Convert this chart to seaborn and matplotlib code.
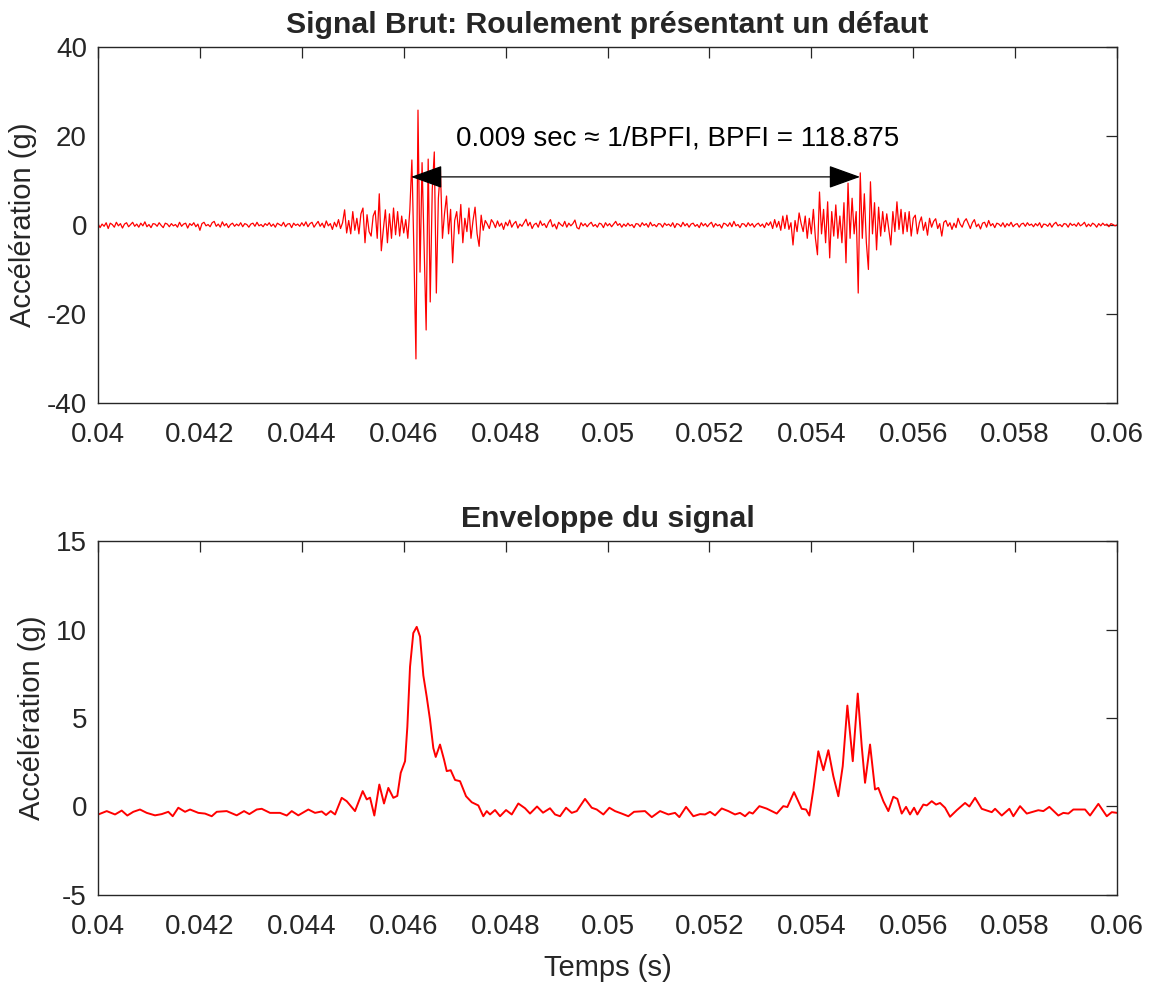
import numpy as np
import matplotlib
matplotlib.use('Agg')
import matplotlib.pyplot as plt
import seaborn as sns

sns.set_style('white')
plt.rcParams['font.family'] = ['Liberation Sans', 'DejaVu Sans']
plt.rcParams['axes.unicode_minus'] = False

# ---------------- data ----------------
t_start, t_end = 0.040, 0.060

raw_acc = [
    0.3, -0.6, 0.2, -0.3, 0.5, -0.8, 0.4, 0.1, -0.5, 0.6, -0.2, 0.3, -0.7, 0.2, 0.5, -0.4, 0.1, 0.6, -0.3, 0.2,
    -0.5, 0.4, -0.2, 0.7, -0.4, 0.1, -0.6, 0.3, 0.2, -0.3, 0.5, -0.1, -0.6, 0.4, 0.2, -0.4, 0.3, -0.2, 0.1, -0.5,
    0.6, -0.3, 0.2, 0.4, -0.7, 0.3, -0.1, 0.5, -0.4, 0.2, -1.2, 0.3, 0.6, -0.2, 0.1, -0.4, 0.5, 0.8, -0.3, 0.2,
    -0.5, 0.7, -0.2, 0.3, -0.6, 0.1, 0.4, -0.3, 0.2, -0.2, 0.5, -0.4, 0.3, 0.1, -0.5, 0.2, 0.4, -0.3, 0.6, -0.2,
    0.1, -0.4, 0.3, -0.1, 0.5, -0.3, 0.2, -0.5, 0.4, 0.1, -0.2, 0.6, -0.4, 0.2, 0.3, -0.6, 0.4, -0.1, 0.2, -0.3,
    0.5, -0.2, 0.7, -0.4, 0.3, 0.6, -0.5, 0.2, 0.8, -0.3, 0.4, -0.6, 0.9, -0.2, 0.3, -1.0, 0.6, -0.4, 1.2, -0.8,
    0.5, 3.4, -1.8, 1.0, -2.0, 3.0, -1.2, 1.5, -2.0, 2.5, 3.8, -4.0, 2.3, -1.5, -2.5, 2.0, 3.2, -3.0, 7.0, -5.8,
    -1.0, 3.4, -4.0, 2.5, -3.0, 3.8, -2.2, 3.0, -2.5, 2.0, -1.8, 1.2, -3.0, 3.4, 14.6, -6.0, -30.1, 25.8, -10.6, 14.0,
    -5.0, -23.6, 14.8, -17.3, 8.0, 16.4, -15.3, 6.0, 12.4, -3.0, 2.5, 6.5, -2.0, 3.5, -8.5, 1.0, 3.0, -2.0, 4.6, -4.0,
    1.5, -1.5, 3.8, -3.0, 1.0, 4.0, -2.0, -4.8, 2.2, -1.2, 1.0, 0.2, -0.8, 1.2, 0.5, -0.6, 0.9, -0.3, 0.4, -1.0,
    0.6, -0.2, 1.1, -0.5, 0.3, 0.8, -0.7, 0.2, -0.3, 0.5, 1.3, -0.2, 0.6, -0.8, 0.1, 0.4, -0.5, 0.9, -0.1, 0.3,
    -0.6, 0.5, 1.2, -0.4, 0.2, -0.9, 0.6, 0.1, -0.3, 0.8, -0.5, 0.4, -0.2, 0.3, 1.1, -0.6, -0.9, 0.5, -0.2, 0.3,
    -0.4, 0.2, 0.6, -0.3, 0.1, -0.5, 0.4, 0.2, -0.6, 0.5, -0.2, 0.3, -0.4, 0.2, 0.8, -0.1, 0.3, -0.5, 0.2, -0.3,
    0.4, -0.2, 0.1, -0.6, 0.3, 0.2, -0.4, 0.5, -0.1, 0.3, -0.5, 0.6, -0.2, 0.1, -0.4, 0.3, 0.2, -0.5, 0.4, -0.1,
    0.2, -0.3, 0.5, -0.6, 0.3, 0.1, -0.4, 0.6, -0.2, 0.3, -0.5, 0.2, 0.4, -0.3, 0.1, -0.6, 0.5, -0.2, 0.3, -0.4,
    0.2, 0.6, -0.5, 0.3, -0.2, 0.1, -0.7, 0.4, 0.2, -0.3, 0.5, -0.4, 0.8, -0.2, 0.1, -0.6, 0.3, 0.2, -0.4, 0.5,
    -0.2, 0.3, -0.5, 0.1, 0.4, -0.3, 0.2, -0.6, 0.5, -0.1, 0.7, -0.8, 1.2, -0.5, 0.8, -1.2, 2.0, -0.8, 2.2, -1.0,
    0.5, -4.5, 1.0, -1.5, 2.7, 0.3, -1.5, 2.0, -3.0, 1.5, -2.0, 3.5, -3.0, -6.7, 7.4, -2.0, 3.5, -4.0, 5.2, -7.4,
    3.0, -2.5, 4.5, -3.0, 2.0, -4.0, 5.0, -8.5, 9.4, -3.0, 6.0, -2.0, 3.0, -15.3, 11.7, -3.0, 7.0, -4.0, -10.0, 9.7,
    -2.0, 5.0, -5.6, 4.0, -2.5, 3.0, -1.5, 2.5, -1.0, -4.5, 3.0, -1.5, 5.2, -1.0, 3.5, -2.0, 2.8, -1.5, 3.0, -2.5,
    1.5, 2.2, -2.0, 0.5, 1.8, -1.2, 0.6, -2.3, 1.5, -0.5, 0.8, 1.4, -0.8, 0.3, -2.5, 0.6, 1.0, -0.3, 0.5, -1.0,
    0.4, -0.6, 1.5, 0.2, -0.5, 0.8, 1.4, 0.3, -0.8, 0.5, 1.2, -0.4, 0.2, -0.9, 0.4, 0.6, -0.5, 1.0, -0.2, 0.3,
    -0.6, 0.4, 0.2, -0.3, 0.5, -0.5, 0.3, -0.2, 0.6, -0.4, 0.1, 0.3, -0.5, 0.2, 0.4, -0.3, 0.5, -0.1, 0.2, -0.4,
    0.3, -0.2, 0.5, -0.6, 0.2, 0.1, -0.3, 0.4, -0.5, 0.2, 0.6, -0.2, 0.1, -0.4, 0.3, 0.2, -0.5, 0.4, -0.1, 0.2,
    -0.3, 0.5, -0.2, 0.1, 0.6, -0.4, 0.2, -0.3, 0.4, 0.1, -0.5, 0.3, -0.2, 0.4, -0.1, 0.2, -0.4, 0.3, 0.1, -0.2, 0.0,
]

env_t = [
    0.040006, 0.040171, 0.040334, 0.040465, 0.040575, 0.040693, 0.040824, 0.040956, 0.041119, 0.041250,
    0.041380, 0.041466, 0.041576, 0.041708, 0.041806, 0.041969, 0.042100, 0.042232, 0.042330, 0.042526,
    0.042722, 0.042866, 0.042970, 0.043115, 0.043213, 0.043376, 0.043572, 0.043704, 0.043802, 0.043931,
    0.044128, 0.044259, 0.044391, 0.044475, 0.044567, 0.044652, 0.044783, 0.044881, 0.045044, 0.045195,
    0.045274, 0.045339, 0.045423, 0.045521, 0.045613, 0.045698, 0.045796, 0.045874, 0.045941, 0.046026,
    0.046071, 0.046124, 0.046188, 0.046255, 0.046320, 0.046385, 0.046451, 0.046516, 0.046581, 0.046628,
    0.046712, 0.046791, 0.046844, 0.046922, 0.047007, 0.047105, 0.047223, 0.047335, 0.047464, 0.047562,
    0.047629, 0.047694, 0.047792, 0.047890, 0.048008, 0.048120, 0.048249, 0.048381, 0.048479, 0.048616,
    0.048734, 0.048871, 0.048970, 0.049068, 0.049186, 0.049297, 0.049396, 0.049558, 0.049690, 0.049788,
    0.049918, 0.050036, 0.050147, 0.050279, 0.050408, 0.050520, 0.050736, 0.050868, 0.051031, 0.051194,
    0.051325, 0.051409, 0.051541, 0.051684, 0.051816, 0.051914, 0.052012, 0.052110, 0.052241, 0.052371,
    0.052502, 0.052600, 0.052699, 0.052783, 0.052850, 0.052980, 0.053124, 0.053321, 0.053450, 0.053529,
    0.053660, 0.053811, 0.053896, 0.053961, 0.054039, 0.054137, 0.054236, 0.054334, 0.054432, 0.054530,
    0.054616, 0.054707, 0.054813, 0.054911, 0.054989, 0.055054, 0.055152, 0.055250, 0.055315, 0.055413,
    0.055511, 0.055609, 0.055688, 0.055774, 0.055859, 0.055937, 0.056016, 0.056080, 0.056198, 0.056265,
    0.056363, 0.056447, 0.056526, 0.056624, 0.056722, 0.056854, 0.057017, 0.057101, 0.057213, 0.057344,
    0.057541, 0.057606, 0.057737, 0.057886, 0.057965, 0.058096, 0.058228, 0.058455, 0.058554, 0.058671,
    0.058848, 0.058946, 0.059044, 0.059142, 0.059372, 0.059470, 0.059633, 0.059798, 0.059896, 0.060000,
]
env_acc = [
    -0.45, -0.26, -0.45, -0.23, -0.51, -0.30, -0.17, -0.36, -0.50, -0.43,
    -0.30, -0.55, -0.07, -0.30, -0.17, -0.36, -0.40, -0.55, -0.30, -0.26,
    -0.50, -0.26, -0.43, -0.17, -0.13, -0.36, -0.36, -0.51, -0.26, -0.50,
    -0.17, -0.36, -0.28, -0.48, -0.26, -0.45, 0.49, 0.30, -0.26, 0.87,
    0.40, 0.50, -0.51, 1.24, 0.17, 1.05, 0.49, 0.60, 1.90, 2.56,
    4.50, 7.90, 9.80, 10.15, 9.60, 7.40, 6.20, 4.90, 3.30, 2.80,
    3.50, 2.65, 2.00, 2.05, 1.50, 1.43, 0.58, 0.24, 0.06, -0.55,
    -0.26, -0.45, -0.20, -0.55, -0.20, -0.45, 0.17, -0.10, -0.40, 0.00,
    -0.35, -0.10, -0.45, -0.55, -0.07, -0.36, -0.26, 0.43, -0.07, -0.17,
    -0.45, -0.07, -0.26, -0.40, -0.55, -0.30, -0.26, -0.60, -0.26, -0.45,
    -0.36, -0.60, -0.02, -0.55, -0.43, -0.45, -0.30, -0.50, -0.11, -0.26,
    -0.45, -0.36, -0.55, -0.32, -0.40, 0.02, -0.12, -0.40, 0.02, -0.03,
    0.81, -0.13, -0.17, -0.51, 0.96, 3.12, 2.05, 3.18, 1.71, 0.58,
    2.28, 5.70, 2.56, 6.38, 3.40, 1.34, 3.50, 0.96, 1.05, 0.30,
    -0.26, 0.55, 0.43, -0.40, -0.02, -0.45, -0.07, -0.45, 0.11, 0.06,
    0.30, 0.11, 0.20, -0.07, -0.58, -0.21, 0.20, 0.00, 0.49, -0.13,
    -0.32, -0.13, -0.51, -0.13, -0.55, 0.02, -0.40, -0.21, -0.26, -0.02,
    -0.51, -0.36, -0.40, -0.17, -0.17, -0.51, 0.15, -0.55, -0.32, -0.36,
]

x_ticks = [0.040, 0.042, 0.044, 0.046, 0.048, 0.050, 0.052, 0.054, 0.056, 0.058, 0.060]
x_tick_labels = ['0.04', '0.042', '0.044', '0.046', '0.048', '0.05',
                 '0.052', '0.054', '0.056', '0.058', '0.06']
raw_y_ticks = [-40, -20, 0, 20, 40]
env_y_ticks = [-5, 0, 5, 10, 15]

arrow_y = 10.8
arrow_t_left, arrow_t_right = 0.046143, 0.054956
note_text = '0.009 sec \u2248 1/BPFI, BPFI = 118.875'
note_t, note_y = 0.047027, 19.5

title_raw = 'Signal Brut: Roulement présentant un défaut'
title_env = 'Enveloppe du signal'
ylabel = 'Accélération (g)'
xlabel = 'Temps (s)'

# ---------------- figure ----------------
raw_t = np.linspace(t_start, t_end, len(raw_acc))

fig = plt.figure(figsize=(11.49, 9.86), dpi=100)
ax1 = fig.add_axes([0.0853, 0.5913, 0.8869, 0.3611])
ax2 = fig.add_axes([0.0853, 0.0923, 0.8869, 0.3590])

axis_col = '#262626'

sns.lineplot(x=raw_t, y=raw_acc, ax=ax1, color='red', linewidth=0.9, estimator=None)
sns.lineplot(x=env_t, y=env_acc, ax=ax2, color='red', linewidth=1.4, estimator=None)

for ax, yt in ((ax1, raw_y_ticks), (ax2, env_y_ticks)):
    ax.set_xlim(t_start, t_end)
    ax.set_ylim(yt[0], yt[-1])
    ax.set_xticks(x_ticks)
    ax.set_xticklabels(x_tick_labels)
    ax.set_yticks(yt)
    ax.set_yticklabels([str(v) for v in yt])
    ax.tick_params(direction='in', length=8, width=0.9, top=True, right=True,
                   labelsize=20, colors=axis_col, labelcolor=axis_col)
    ax.tick_params(axis='x', pad=14)
    ax.tick_params(axis='y', pad=8)
    for s in ax.spines.values():
        s.set_color(axis_col)
        s.set_linewidth(1.0)
    ax.set_ylabel(ylabel, fontsize=21, color=axis_col, labelpad=7)
    ax.set_xlabel('')

ax1.set_title(title_raw, fontsize=21.8, fontweight='bold', pad=10)
ax2.set_title(title_env, fontsize=21.8, fontweight='bold', pad=10)
ax2.set_xlabel(xlabel, fontsize=21, color=axis_col, labelpad=10)

ax1.annotate('', xy=(arrow_t_left, arrow_y), xytext=(arrow_t_right, arrow_y),
             arrowprops=dict(arrowstyle='<|-|>,head_length=1.0,head_width=0.36',
                             mutation_scale=20, color='black', lw=0.9,
                             shrinkA=0, shrinkB=0))
ax1.text(note_t, note_y, note_text, fontsize=20, va='center', ha='left', color='black')

fig.savefig('out.png', dpi=100)
